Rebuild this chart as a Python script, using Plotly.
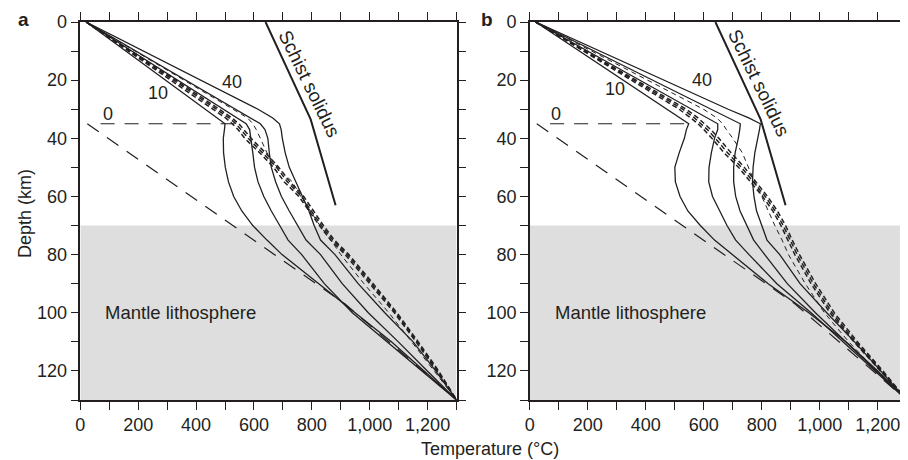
import plotly.graph_objects as go

# depth grid shared by the geotherms (km)
depth_km = [0, 10, 20, 30, 33, 35, 37, 40, 45, 50, 55, 60, 65, 70, 75, 80, 90, 100, 110, 120, 130]

# panel a, solid geotherms (10 ... 40)
a_t10 = [20, 158, 296, 434, 475, 500, 498, 494, 495, 501, 512, 530, 558, 596, 645, 697, 824, 950, 1075, 1188, 1300]
a_t20 = [20, 178, 336, 494, 541, 573, 585, 590, 596, 602, 614, 634, 660, 689, 718, 765, 843, 940, 1060, 1180, 1300]
a_t30 = [20, 192, 364, 536, 588, 622, 638, 648, 653, 660, 675, 695, 722, 750, 780, 830, 905, 995, 1099, 1199, 1300]
a_t40 = [20, 218, 416, 614, 665, 688, 694, 698, 708, 722, 745, 768, 790, 808, 830, 880, 960, 1052, 1150, 1228, 1300]
# panel a, dashed geotherms
a_thin = [20, 190, 360, 530, 578, 596, 608, 622, 645, 680, 733, 762, 795, 828, 866, 900, 980, 1066, 1145, 1222, 1300]
a_thick1 = [20, 166, 312, 458, 502, 525, 545, 568, 620, 668, 705, 755, 790, 826, 865, 915, 1000, 1085, 1160, 1232, 1300]
a_thick2 = [20, 172, 322, 470, 514, 538, 556, 580, 630, 678, 716, 764, 798, 833, 872, 922, 1006, 1090, 1164, 1235, 1300]
a_thick3 = [20, 176, 330, 480, 524, 548, 566, 590, 640, 686, 724, 772, 806, 840, 878, 928, 1012, 1094, 1168, 1238, 1300]

# panel b, solid geotherms
b_t10 = [20, 172, 324, 476, 522, 548, 540, 533, 515, 500, 502, 518, 545, 588, 637, 700, 822, 962, 1090, 1200, 1300]
b_t20 = [20, 199, 378, 557, 610, 648, 648, 637, 626, 618, 617, 630, 655, 680, 710, 756, 852, 970, 1080, 1190, 1300]
b_t30 = [20, 223, 426, 630, 690, 726, 724, 719, 708, 703, 703, 710, 725, 748, 772, 810, 888, 985, 1090, 1195, 1300]
b_t40 = [20, 240, 462, 684, 755, 795, 792, 786, 776, 770, 768, 773, 782, 800, 818, 862, 932, 1024, 1120, 1210, 1300]
# panel b, dashed geotherms
b_thin = [20, 213, 406, 599, 645, 665, 678, 700, 733, 755, 775, 800, 822, 845, 870, 892, 950, 1016, 1100, 1195, 1300]
b_thick1 = [20, 185, 350, 515, 555, 580, 600, 628, 670, 720, 761, 803, 838, 866, 890, 914, 970, 1035, 1118, 1210, 1300]
b_thick2 = [20, 190, 360, 528, 568, 592, 612, 640, 682, 730, 770, 812, 846, 874, 898, 922, 978, 1042, 1124, 1214, 1300]
b_thick3 = [20, 195, 368, 540, 580, 604, 624, 652, 694, 740, 779, 820, 854, 882, 905, 930, 986, 1050, 1130, 1218, 1300]

# initial (0) geotherm, long dashes
zero_flat_t = [70, 550]
zero_flat_d = [35, 35]
zero_slab_t = [24, 915, 1300]
zero_slab_d = [35, 97, 130]

# schist solidus
solidus_t = [640, 796, 882]
solidus_d = [0, 33.5, 63]

x_tickvals = [0, 100, 200, 300, 400, 500, 600, 700, 800, 900, 1000, 1100, 1200, 1300]
x_ticktext = ["0", "", "200", "", "400", "", "600", "", "800", "", "1,000", "", "1,200", ""]
y_tickvals = [0, 10, 20, 30, 40, 50, 60, 70, 80, 90, 100, 110, 120, 130]
y_ticktext = ["0", "", "20", "", "40", "", "60", "", "80", "", "100", "", "120", ""]

INK = "#231f20"
FONT = "Liberation Sans, Arial, sans-serif"

fig = go.Figure()


def line(xs, ys, panel, width=1.3, dash="solid"):
    fig.add_trace(go.Scatter(
        x=xs, y=ys, mode="lines",
        xaxis="x" if panel == 1 else "x2",
        yaxis="y" if panel == 1 else "y2",
        line=dict(color=INK, width=width, dash=dash),
        hoverinfo="skip", showlegend=False,
    ))


panels = {
    1: dict(solid=[a_t10, a_t20, a_t30, a_t40], thin=a_thin, thick=[a_thick1, a_thick2, a_thick3]),
    2: dict(solid=[b_t10, b_t20, b_t30, b_t40], thin=b_thin, thick=[b_thick1, b_thick2, b_thick3]),
}

for p, curves in panels.items():
    line(zero_slab_t, zero_slab_d, p, width=1.2, dash="14px,10px")
    line(zero_flat_t, zero_flat_d, p, width=1.2, dash="14px,10px")
    line(curves["thin"], depth_km, p, width=1.0, dash="5px,4px")
    for t in curves["thick"]:
        line(t, depth_km, p, width=1.5, dash="5px,3px")
    for t in curves["solid"]:
        line(t, depth_km, p, width=1.3)
    line(solidus_t, solidus_d, p, width=2.0)

axis_style = dict(
    range=[0, 1300], tickvals=x_tickvals, ticktext=x_ticktext,
    ticks="outside", ticklen=8, tickwidth=1.2, tickcolor=INK,
    showline=True, linecolor=INK, linewidth=1.5, mirror="ticks",
    showgrid=False, zeroline=False, tickfont=dict(size=18, color=INK),
)
yaxis_style = dict(
    range=[130, 0], tickvals=y_tickvals, ticktext=y_ticktext,
    ticks="outside", ticklen=8, tickwidth=1.2, tickcolor=INK,
    showline=True, linecolor=INK, linewidth=1.5, mirror="ticks",
    showgrid=False, zeroline=False, tickfont=dict(size=18, color=INK),
)

# the page is drawn 8 px in from the window corner, so the layout is shifted back by 8 px
fig.update_layout(
    width=908, height=460,
    margin=dict(l=0, r=0, t=14, b=68),
    paper_bgcolor="white", plot_bgcolor="white",
    font=dict(family=FONT, color=INK, size=18),
    xaxis=dict(axis_style, domain=[0.07456, 0.49119], anchor="y"),
    yaxis=dict(yaxis_style, domain=[0, 1], anchor="x"),
    xaxis2=dict(axis_style, domain=[0.57236, 0.98976], anchor="y2"),
    yaxis2=dict(yaxis_style, domain=[0, 1], anchor="x2"),
)

for xr, yr in [("x", "y"), ("x2", "y2")]:
    fig.add_shape(type="rect", xref=xr, yref=yr, x0=0, x1=1300, y0=70, y1=130,
                  fillcolor="#dddedd", line=dict(width=0), layer="below")

labels = [
    ("x", "y", 269, 24.3, "10"), ("x", "y", 525, 20.5, "40"), ("x", "y", 95, 31.6, "0"),
    ("x2", "y2", 293, 23, "10"), ("x2", "y2", 595, 20, "40"), ("x2", "y2", 90, 31.8, "0"),
]
for xr, yr, xv, yv, txt in labels:
    fig.add_annotation(xref=xr, yref=yr, x=xv, y=yv, text=txt, showarrow=False,
                       xanchor="center", yanchor="middle", font=dict(size=18, color=INK))

for xr, yr in [("x", "y"), ("x2", "y2")]:
    fig.add_annotation(xref=xr, yref=yr, x=792, y=21, text="Schist solidus", textangle=64,
                       xanchor="center", yanchor="middle", showarrow=False,
                       font=dict(size=19, color=INK))
    fig.add_annotation(xref=xr, yref=yr, x=80, y=100, text="Mantle lithosphere",
                       xanchor="left", yanchor="middle", showarrow=False,
                       font=dict(size=18.5, color=INK))

fig.add_annotation(xref="paper", yref="paper", x=0.5286, y=-0.1296, text="Temperature (°C)",
                   xanchor="center", yanchor="middle", showarrow=False, font=dict(size=18, color=INK))
fig.add_annotation(xref="paper", yref="paper", x=0.0132, y=0.4947, text="Depth (km)", textangle=-90,
                   xanchor="center", yanchor="middle", showarrow=False, font=dict(size=18, color=INK))
fig.add_annotation(xref="paper", yref="paper", x=0.0121, y=1.0053, text="<b>a</b>",
                   xanchor="center", yanchor="middle", showarrow=False, font=dict(size=19, color=INK))
fig.add_annotation(xref="paper", yref="paper", x=0.5253, y=1.0066, text="<b>b</b>",
                   xanchor="center", yanchor="middle", showarrow=False, font=dict(size=19, color=INK))

fig.write_html("out.html")
